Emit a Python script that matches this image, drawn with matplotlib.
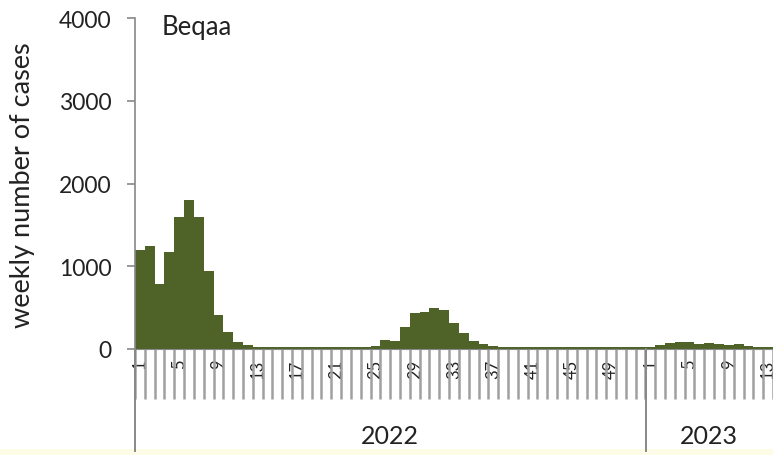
import numpy as np
import matplotlib
matplotlib.use("Agg")
import matplotlib.pyplot as plt
from matplotlib.lines import Line2D
from matplotlib.patches import Rectangle

# Casi settimanali - Beqaa
cases_2022 = [1200, 1250, 790, 1170, 1590, 1800, 1590, 940, 410, 200, 80, 50,
              30, 25, 20, 20, 20, 20, 20, 20, 20, 20, 20, 25,
              40, 110, 100, 260, 430, 450, 490, 470, 320, 190, 100, 60, 40, 30,
              25, 20, 20, 20, 20, 20, 20, 20, 20, 20, 20, 20, 20, 25]
cases_2023 = [30, 50, 70, 90, 85, 60, 75, 55, 50, 55, 35, 30, 30]
years = ["2022", "2023"]
region = "Beqaa"
y_ticks = [0, 1000, 2000, 3000, 4000]

W, H = 773, 456
fig = plt.figure(figsize=(W / 100, H / 100), dpi=100)
plt.rcParams['font.family'] = ['Lato', 'DejaVu Sans']

# striscia gialla in fondo
fig.patches.append(Rectangle((0, 0), 1, 6 / H, transform=fig.transFigure,
                             facecolor='#fdfce6', edgecolor='none', zorder=0))

left_px, zero_px, top_px = 135, 350, 19
ax = fig.add_axes([left_px / W, (H - zero_px) / H, 1 - left_px / W, (zero_px - top_px) / H])

values = cases_2022 + cases_2023
x = np.arange(len(values))
ax.bar(x, values, width=1.0, color='#4f6228', edgecolor='none')

ax.set_ylim(0, 4000)
ax.set_xlim(-0.5, 64.4)
ax.set_yticks(y_ticks)
ax.tick_params(axis='y', direction='out', length=6, width=1.2, color='#888888',
               labelsize=16.5, labelcolor='#222222', pad=11)

# etichette settimane ogni 4
n22 = len(cases_2022)
major = [i for i in range(0, n22, 4)] + [n22 + i for i in range(0, len(cases_2023), 4)]
labels = [str(i + 1) for i in range(0, n22, 4)] + [str(i + 1) for i in range(0, len(cases_2023), 4)]
ax.set_xticks(major)
ax.set_xticklabels(labels, rotation=90, fontsize=12, color='#222222')
ax.tick_params(axis='x', which='major', length=0, pad=7)
ax.set_xticks(np.arange(-0.5, len(values) + 0.5, 1), minor=True)
ax.tick_params(axis='x', which='minor', length=36, width=1.8, color='#a0a0a0', direction='out')

for s in ['top', 'right']:
    ax.spines[s].set_visible(False)
ax.spines['left'].set_color('#888888')
ax.spines['bottom'].set_color('#888888')
ax.spines['left'].set_linewidth(1.2)

# linee verticali di separazione anni
for px in [left_px, left_px + (n22) * 9.83]:
    fig.lines.append(Line2D([px / W, px / W], [(H - zero_px) / H, (H - 452) / H],
                            transform=fig.transFigure, color='#888888', lw=1.4))

# etichette anni
ax.text((n22 - 1) / 2, -0.26, years[0], transform=ax.get_xaxis_transform(),
        ha='center', va='center', fontsize=18, color='#222222')
ax.text(n22 - 0.5 + 6.5, -0.26, years[1], transform=ax.get_xaxis_transform(),
        ha='center', va='center', fontsize=18, color='#222222')

ax.text(162, H - 28, region, transform=None, ha='left', va='center',
        fontsize=18.5, color='#222222')
fig.text(23 / W, (H - 185) / H, "weekly number of cases", rotation=90,
         ha='center', va='center', fontsize=19.5, color='#222222')

fig.savefig("out.png", dpi=100)
